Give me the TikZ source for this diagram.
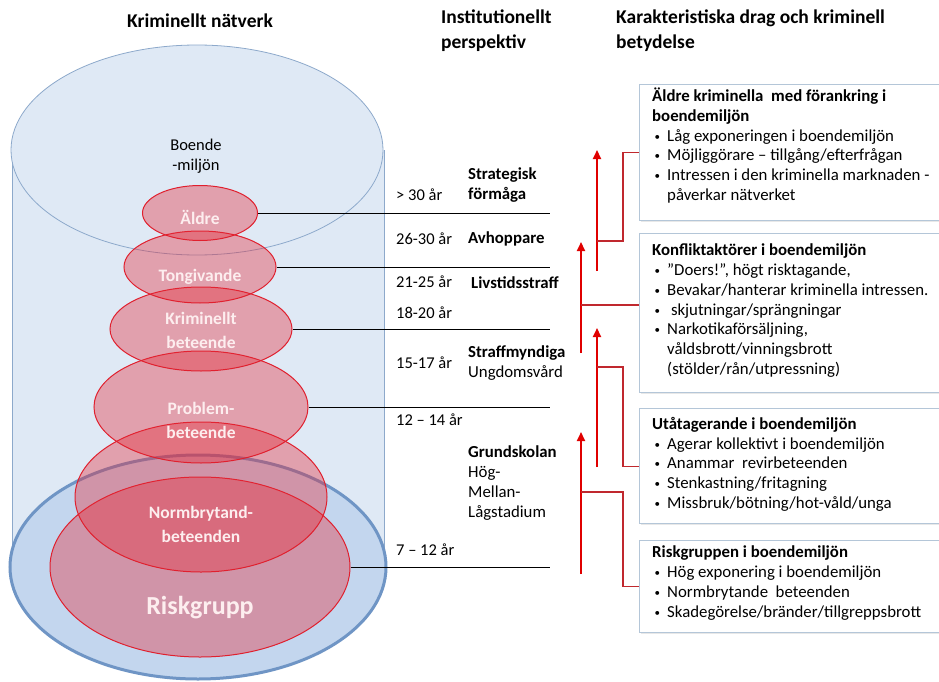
\documentclass[tikz,border=0pt]{standalone}
\usepackage{fontspec}
\setmainfont{Carlito}
\usetikzlibrary{shapes.geometric,arrows.meta,shadows}
\definecolor{cylfill}{HTML}{DFE9F5}
\definecolor{cylline}{HTML}{8DA9CB}
\definecolor{basefill}{HTML}{C3D6EE}
\definecolor{basedraw}{HTML}{6F95C5}
\definecolor{redfill}{HTML}{E62A38}
\definecolor{reddraw}{HTML}{E0202E}
\definecolor{arrowred}{HTML}{E00000}
\definecolor{branchred}{HTML}{C0282E}
\definecolor{boxline}{HTML}{B4C6D8}
\definecolor{elltext}{HTML}{FDEEEF}
\newcommand\bul{\makebox[15pt][l]{\hspace{2.5pt}\raisebox{1pt}{\fontsize{11}{11}\selectfont•}}}
\newcommand\ind{\hspace*{15pt}}
\begin{document}
\begin{tikzpicture}[x=1pt,y=-1pt,
  redell/.style={ellipse, draw=reddraw, line width=1pt, fill=redfill, fill opacity=0.38, inner sep=0pt},
  elltxt/.style={text=elltext, font=\fontsize{17.5}{24}\selectfont\bfseries, align=center, inner sep=0pt},
  conn/.style={draw=black, line width=0.8pt},
  agetxt/.style={anchor=west, font=\fontsize{16.5}{19}\selectfont, inner sep=0pt},
  persptxt/.style={anchor=west, font=\fontsize{16.8}{20}\selectfont, align=left, inner sep=0pt},
  heading/.style={font=\fontsize{19.5}{25}\selectfont\bfseries, align=left, inner sep=0pt},
  bigarrow/.style={draw=arrowred, line width=2pt, -{Triangle[length=9pt,width=8pt]}},
  branch/.style={draw=branchred, line width=1.1pt},
  infobox/.style={draw=boxline, line width=1.2pt, fill=white, anchor=north west, minimum width=330pt, inner sep=0pt,
    drop shadow={shadow xshift=1.5pt, shadow yshift=-1.5pt, opacity=0.18, fill=gray}},
  boxtext/.style={anchor=north west, align=left, inner sep=0pt, font=\fontsize{16.8}{19.7}\selectfont}
]
\useasboundingbox[fill=white] (0,0) rectangle (939,682);

% headings
\node[heading, anchor=center] (h1) at (200,21) {Kriminellt nätverk};
\node[heading, anchor=west] (h2) at (441,31) {Institutionellt\\perspektiv};
\node[heading, anchor=west] (h3) at (616,31) {Karakteristiska drag och kriminell\\betydelse};

% cylinder
\fill[cylfill] (12,150) rectangle (384,567);
\draw[cylline] (12,150) -- (12,567);
\draw[cylline] (384,150) -- (384,567);
\node[ellipse, draw=basedraw, line width=3pt, fill=basefill, minimum width=376pt, minimum height=224pt] (base) at (198,567) {};
\node[ellipse, draw=cylline, line width=0.8pt, fill=cylfill, minimum width=372pt, minimum height=210pt] (topell) at (197,150) {};
\node[align=center, font=\fontsize{16.5}{20}\selectfont, inner sep=0pt] (boende) at (196,156) {Boende\\-miljön};

% red ellipses
\node[redell, minimum width=300pt, minimum height=180pt] (risk) at (200,567) {};
\node[redell, minimum width=252pt, minimum height=150pt] (norm) at (201,497) {};
\node[redell, minimum width=214pt, minimum height=112pt] (prob) at (201,407) {};
\node[redell, minimum width=182pt, minimum height=84pt] (krim) at (201,329) {};
\node[redell, minimum width=152pt, minimum height=72pt] (tong) at (200,267) {};
\node[redell, minimum width=115pt, minimum height=55pt] (aeld) at (200,213) {};

\node[elltxt] (taeld) at (200,217) {Äldre};
\node[elltxt] (ttong) at (200,277) {Tongivande};
\node[elltxt] (tkrim) at (201,330) {Kriminellt\\beteende};
\node[elltxt] (tprob) at (201,420) {Problem-\\beteende};
\node[elltxt] (tnorm) at (201,524) {Normbrytand-\\beteenden};
\node[elltxt, font=\fontsize{26}{30}\selectfont\bfseries] (trisk) at (200,608) {Riskgrupp};

% connector lines
\coordinate (e1) at (550,213);
\coordinate (e2) at (550,267);
\coordinate (e3) at (550,329);
\coordinate (e4) at (550,407);
\coordinate (e5) at (550,567);
\draw[conn] (aeld.east) -- (e1);
\draw[conn] (tong.east) -- (e2);
\draw[conn] (krim.east) -- (e3);
\draw[conn] (prob.east) -- (e4);
\draw[conn] (risk.east) -- (e5);

% ages
\node[agetxt] (g1) at (396,195) {> 30 år};
\node[agetxt] (g2) at (396,239) {26-30 år};
\node[agetxt] (g3) at (396,282) {21-25 år};
\node[agetxt] (g4) at (396,313) {18-20 år};
\node[agetxt] (g5) at (396,363) {15-17 år};
\node[agetxt] (g6) at (396,420) {12 – 14 år};
\node[agetxt] (g7) at (396,550) {7 – 12 år};

% perspective
\node[persptxt] (p1) at (468,185) {\textbf{Strategisk}\\\textbf{förmåga}};
\node[persptxt] (p2) at (468,239) {\textbf{Avhoppare}};
\node[persptxt] (p3) at (471,283) {\textbf{Livstidsstraff}};
\node[persptxt] (p4) at (468,363) {\textbf{Straffmyndiga}\\Ungdomsvård};
\node[persptxt] (p5) at (468,483) {\textbf{Grundskolan}\\Hög-\\Mellan-\\Lågstadium};

% info boxes
\node[infobox, minimum height=136pt] (box1) at (639,84) {};
\node[infobox, minimum height=159pt] (box2) at (639,233) {};
\node[infobox, minimum height=115pt] (box3) at (639,408) {};
\node[infobox, minimum height=92pt] (box4) at (639,540) {};

\node[boxtext] (t1) at (652,88) {\textbf{Äldre kriminella\ \ med förankring i}\\\textbf{boendemiljön}\\\bul Låg exponeringen i boendemiljön\\\bul Möjliggörare – tillgång/efterfrågan\\\bul Intressen i den kriminella marknaden -\\\ind påverkar nätverket};
\node[boxtext] (t2) at (652,244) {\textbf{Konfliktaktörer i boendemiljön}\\\bul ”Doers!”, högt risktagande,\\\bul Bevakar/hanterar kriminella intressen.\\\bul\ skjutningar/sprängningar\\\bul Narkotikaförsäljning,\\\ind våldsbrott/vinningsbrott\\\ind (stölder/rån/utpressning)};
\node[boxtext] (t3) at (652,417) {\textbf{Utåtagerande i boendemiljön}\\\bul Agerar kollektivt i boendemiljön\\\bul Anammar\ \ revirbeteenden\\\bul Stenkastning/fritagning\\\bul Missbruk/bötning/hot-våld/unga};
\node[boxtext] (t4) at (652,546) {\textbf{Riskgruppen i boendemiljön}\\\bul Hög exponering i boendemiljön\\\bul Normbrytande\ \ beteenden\\\bul Skadegörelse/bränder/tillgreppsbrott};

% arrows
\coordinate (a1s) at (597,271); \coordinate (a1e) at (597,150);
\coordinate (a2s) at (581,353); \coordinate (a2e) at (581,242);
\coordinate (a3s) at (597,467); \coordinate (a3e) at (597,328);
\coordinate (a4s) at (581,574); \coordinate (a4e) at (581,432);
\draw[bigarrow] (a1s) -- (a1e);
\draw[bigarrow] (a2s) -- (a2e);
\draw[bigarrow] (a3s) -- (a3e);
\draw[bigarrow] (a4s) -- (a4e);

\coordinate (b1) at (597,241);
\coordinate (b2) at (581,305);
\coordinate (b3) at (597,367);
\coordinate (b4) at (581,492);
\draw[branch] (b1) -- ++(26,0) |- (box1.west);
\draw[branch] (b2) -- (b2 -| box2.west);
\draw[branch] (b3) -- ++(26,0) |- (box3.west);
\draw[branch] (b4) -- ++(42,0) |- (box4.west);
\end{tikzpicture}
\end{document}
